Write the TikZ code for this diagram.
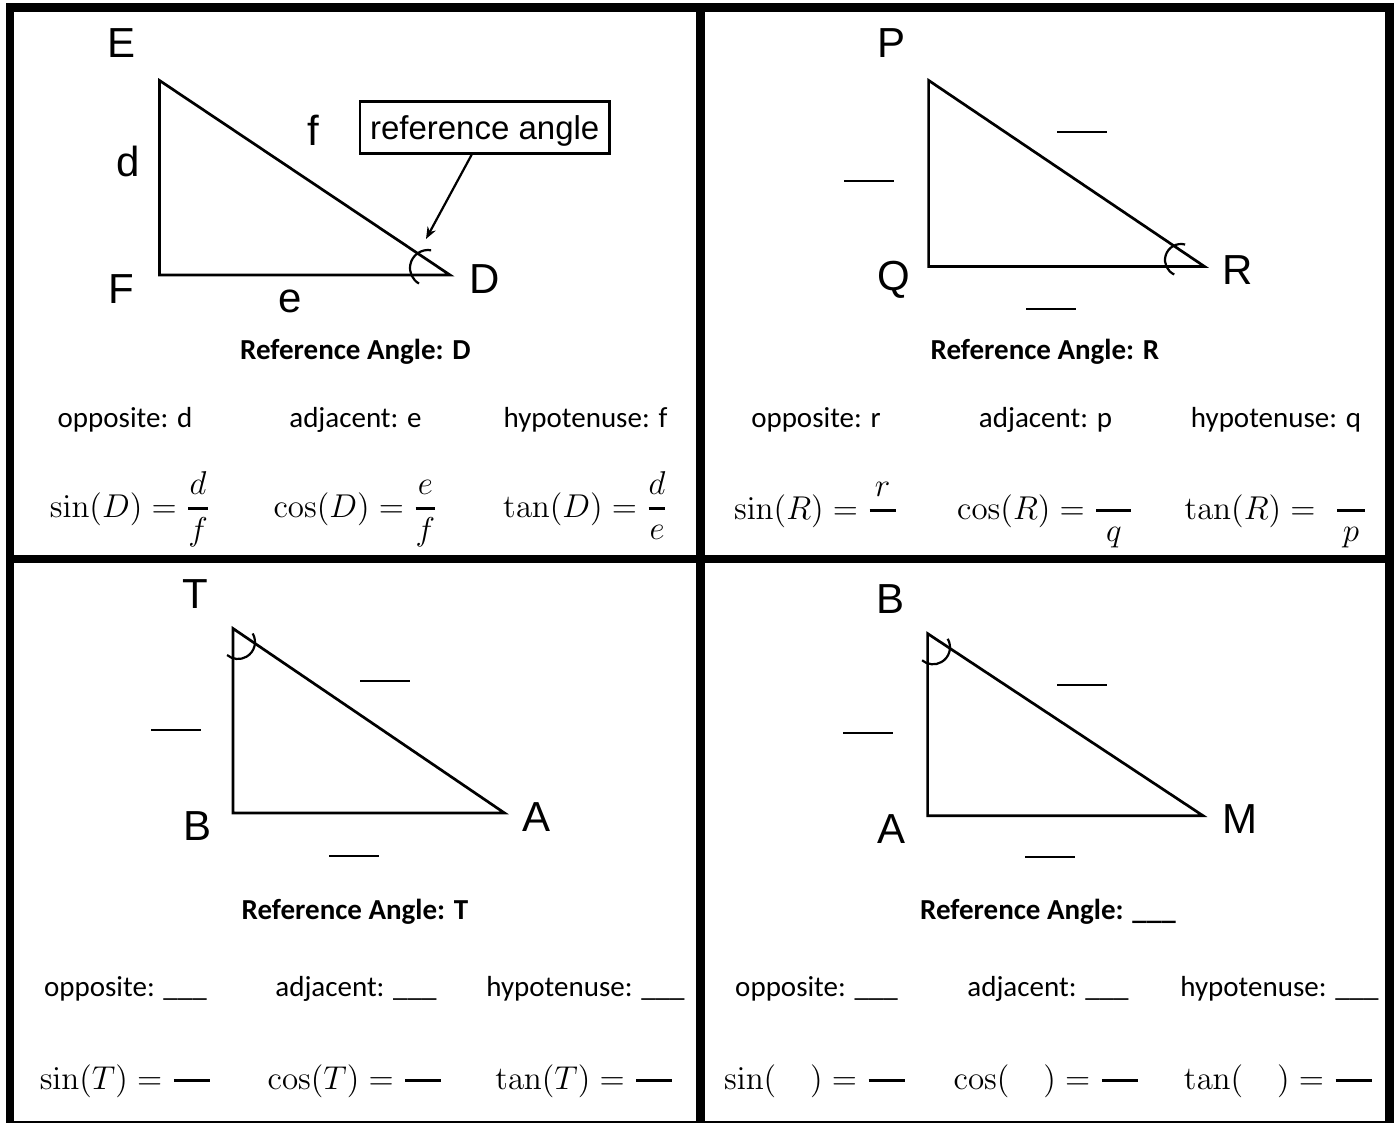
\RequirePackage{fix-cm}
\documentclass[tikz,border=0pt]{standalone}
\usepackage{amsmath}
\usepackage[no-math]{fontspec}
\setmainfont{Carlito}
\newfontfamily\arialfont{Liberation Sans}
\usetikzlibrary{arrows.meta, positioning, calc}
\newcommand{\wfrac}[2]{\genfrac{}{}{1.3pt}{0}{#1}{#2}}
\tikzset{
  frameLine/.style={line width=4.25pt, line join=miter},
  triLine/.style={line width=1.35pt, line join=miter},
  angleMark/.style={line width=1.1pt},
  arrowK/.style={-{Stealth[length=6pt, width=4.6pt]}, line width=1.1pt},
  vlabel/.style={anchor=base, inner sep=0pt, font=\arialfont\fontsize{21}{25}\selectfont},
  refBox/.style={rectangle, draw, line width=1.35pt, inner sep=0pt,
                 minimum width=124.6pt, text height=19.15pt, text depth=6.65pt,
                 font=\arialfont\fontsize{16.5}{19}\selectfont},
  blankLine/.style={fill, inner sep=0pt, minimum width=25pt, minimum height=1pt},
  refText/.style={anchor=base, inner sep=0pt, font=\bfseries\fontsize{14.5}{17}\selectfont},
  sideText/.style={anchor=base, inner sep=0pt, font=\fontsize{14.5}{17}\selectfont},
  trigText/.style={anchor=base, inner sep=0pt, font=\fontsize{16.5}{19}\selectfont},
}

\begin{document}
\begin{tikzpicture}[x=0.5pt, y=0.5pt]
  \useasboundingbox (0,0) rectangle (1399,-1123);
  % frame
  \draw[frameLine] (10,-1123) -- (10,-7.3) -- (1389.7,-7.3) -- (1389.7,-1123);
  \draw[frameLine] (700.5,-7.3) -- (700.5,-1123);
  \draw[frameLine] (10,-559) -- (1389.7,-559);
  \draw[line width=0.8pt] (10,-1121.8) -- (1389.7,-1121.8);

  % panel 1: D
  \coordinate (e1) at (159.5,-80.5);
  \coordinate (f1) at (159.5,-275);
  \coordinate (d1) at (450,-275);
  \draw[triLine] (e1) -- (f1) -- (d1) -- cycle;
  \node[vlabel] (labE) at (121.5,-58) {E};
  \node[vlabel] (labd) at (128,-177) {d};
  \node[vlabel] (labf) at (313.5,-145.7) {f};
  \node[vlabel] (labF) at (121,-303.6) {F};
  \node[vlabel] (labe) at (290,-313) {e};
  \node[vlabel] (labD) at (485,-293.5) {D};
  \coordinate (arcD) at (428,-268);
  \draw[angleMark] ([shift={(80:18)}]arcD) arc[start angle=80, end angle=240, radius=18];
  \node[refBox] (refbox) at (484.7,-127.5) {reference angle};
  \coordinate (tipD) at (426,-239);
  \draw[arrowK] ([xshift=-6.5pt]refbox.south) -- (tipD);
  \node[refText] (refD) at (355.5,-360) {Reference Angle: D};
  \node[sideText] (oppD) at (125,-428) {opposite: d};
  \node[sideText] (adjD) at (355.5,-428) {adjacent: e};
  \node[sideText] (hypD) at (585.5,-428) {hypotenuse: f};
  \node[trigText] (sinD) at (130,-517) {$\sin(D) = \wfrac{d}{f}$};
  \node[trigText] (cosD) at (355.5,-517) {$\cos(D) = \wfrac{e}{f}$};
  \node[trigText] (tanD) at (585.5,-517) {$\tan(D) = \wfrac{d}{e}$};

  % panel 2: R
  \coordinate (p2) at (928.6,-80.4);
  \coordinate (q2) at (928.6,-266.5);
  \coordinate (r2) at (1204.5,-266.5);
  \draw[triLine] (p2) -- (q2) -- (r2) -- cycle;
  \node[vlabel] (labP) at (891.5,-57.9) {P};
  \node[vlabel] (labQ) at (894,-291) {Q};
  \node[vlabel] (labR) at (1238,-284.5) {R};
  \node[blankLine] (blankPQ) at (869,-181.4) {};
  \node[blankLine] (blankPR) at (1082.3,-132) {};
  \node[blankLine] (blankQR) at (1050.5,-309) {};
  \coordinate (arcR) at (1181,-260);
  \draw[angleMark] ([shift={(75:16)}]arcR) arc[start angle=75, end angle=245, radius=16];
  \node[refText] (refR) at (1045,-360) {Reference Angle: R};
  \node[sideText] (oppR) at (816,-428) {opposite: r};
  \node[sideText] (adjR) at (1045.5,-428) {adjacent: p};
  \node[sideText] (hypR) at (1276,-428) {hypotenuse: q};
  \node[trigText] (sinR) at (816,-519) {$\sin(R) = \wfrac{r}{\hspace{13pt}}$};
  \node[trigText] (cosR) at (1045.5,-519) {$\cos(R) = \wfrac{\hspace{17.5pt}}{q}$};
  \node[trigText] (tanR) at (1276,-519) {$\tan(R) = \hspace{5pt}\wfrac{\hspace{14pt}}{p}$};

  % panel 3: T
  \coordinate (t3) at (233,-628.5);
  \coordinate (b3) at (233,-813);
  \coordinate (a3) at (504.5,-813);
  \draw[triLine] (t3) -- (b3) -- (a3) -- cycle;
  \node[vlabel] (labT) at (195.7,-608.5) {T};
  \node[vlabel] (labB) at (198,-840) {B};
  \node[vlabel] (labA) at (536.7,-831.8) {A};
  \node[blankLine] (blankTB) at (175.5,-730) {};
  \node[blankLine] (blankTA) at (385,-681) {};
  \node[blankLine] (blankBA) at (354,-856) {};
  \coordinate (arcT) at (238,-642);
  \draw[angleMark] ([shift={(30:17)}]arcT) arc[start angle=30, end angle=-130, radius=17];
  \node[refText] (refT) at (355,-919.8) {Reference Angle: T};
  \node[sideText] (oppT) at (125.5,-996) {opposite: \_\_\_};
  \node[sideText] (adjT) at (356,-996) {adjacent: \_\_\_};
  \node[sideText] (hypT) at (585.5,-996) {hypotenuse: \_\_\_};
  \node[trigText] (sinT) at (126,-1089) {$\sin(T) = \wfrac{\hspace{18pt}}{}$};
  \node[trigText] (cosT) at (355.7,-1089) {$\cos(T) = \wfrac{\hspace{18pt}}{}$};
  \node[trigText] (tanT) at (585,-1089) {$\tan(T) = \wfrac{\hspace{18pt}}{}$};

  % panel 4: blank
  \coordinate (b4) at (927.6,-633.6);
  \coordinate (a4) at (927.6,-815.7);
  \coordinate (m4) at (1203,-815.7);
  \draw[triLine] (b4) -- (a4) -- (m4) -- cycle;
  \node[vlabel] (labB2) at (890,-613) {B};
  \node[vlabel] (labA2) at (891.4,-843.7) {A};
  \node[vlabel] (labM) at (1240,-833.6) {M};
  \node[blankLine] (blankBA2) at (868.4,-733) {};
  \node[blankLine] (blankBM) at (1082.4,-685) {};
  \node[blankLine] (blankAM) at (1049.7,-857.3) {};
  \coordinate (arcB) at (933,-647.3);
  \draw[angleMark] ([shift={(30:17)}]arcB) arc[start angle=30, end angle=-130, radius=17];
  \node[refText] (refX) at (1048,-919.8) {Reference Angle: \_\_\_};
  \node[sideText] (oppX) at (816.6,-996) {opposite: \_\_\_};
  \node[sideText] (adjX) at (1048,-996) {adjacent: \_\_\_};
  \node[sideText] (hypX) at (1279.5,-996) {hypotenuse: \_\_\_};
  \node[trigText] (sinX) at (815.6,-1089) {$\sin(\hspace{17pt}) = \wfrac{\hspace{18pt}}{}$};
  \node[trigText] (cosX) at (1047,-1089) {$\cos(\hspace{17pt}) = \wfrac{\hspace{18pt}}{}$};
  \node[trigText] (tanX) at (1279,-1089) {$\tan(\hspace{17pt}) = \wfrac{\hspace{18pt}}{}$};
\end{tikzpicture}
\end{document}
